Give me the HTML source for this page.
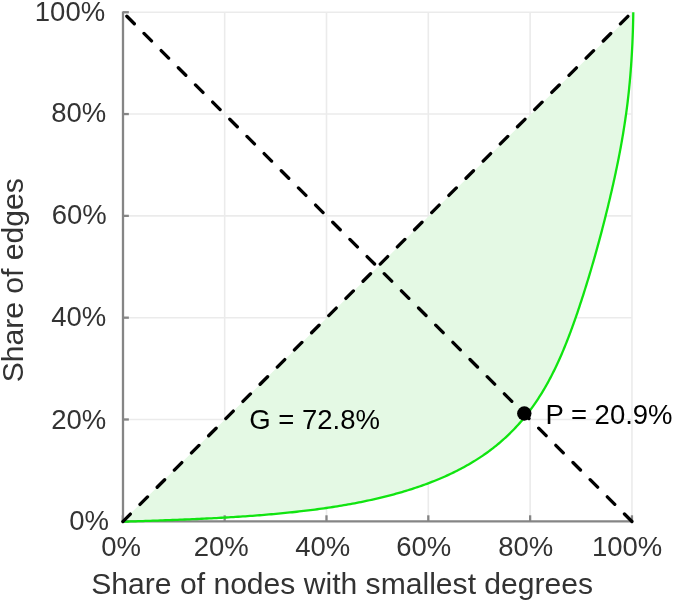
<!DOCTYPE html>
<html><head><meta charset="utf-8"><style>
html,body{margin:0;padding:0;background:#fff;width:688px;height:600px;overflow:hidden}
svg{display:block;will-change:transform}
text{font-family:"Liberation Sans",sans-serif;font-size:27.5px}
</style></head><body>
<svg width="688" height="600" viewBox="0 0 688 600">
<rect width="688" height="600" fill="#fff"/>
<g stroke="#ebebeb" stroke-width="1.6"><line x1="224.67" y1="521.3" x2="224.67" y2="12.25"/><line x1="122.85" y1="419.49" x2="631.95" y2="419.49"/><line x1="326.49" y1="521.3" x2="326.49" y2="12.25"/><line x1="122.85" y1="317.68" x2="631.95" y2="317.68"/><line x1="428.31" y1="521.3" x2="428.31" y2="12.25"/><line x1="122.85" y1="215.87" x2="631.95" y2="215.87"/><line x1="530.13" y1="521.3" x2="530.13" y2="12.25"/><line x1="122.85" y1="114.06" x2="631.95" y2="114.06"/><line x1="631.95" y1="521.3" x2="631.95" y2="12.25"/><line x1="122.85" y1="12.25" x2="631.95" y2="12.25"/></g><path d="M122.85,521.60 L125.71,521.60 L128.17,521.53 L130.64,521.44 L133.11,521.36 L135.58,521.28 L138.04,521.20 L140.51,521.12 L142.98,521.04 L145.44,520.95 L147.91,520.87 L150.37,520.79 L152.84,520.70 L155.30,520.62 L157.76,520.53 L160.23,520.44 L162.69,520.35 L165.15,520.26 L167.60,520.17 L170.06,520.08 L172.52,519.99 L174.97,519.90 L177.43,519.80 L179.88,519.70 L182.33,519.60 L184.78,519.50 L187.22,519.40 L189.67,519.30 L192.11,519.19 L194.55,519.09 L196.99,518.98 L199.43,518.87 L201.87,518.75 L204.30,518.64 L206.73,518.52 L209.16,518.40 L211.59,518.28 L214.01,518.15 L216.43,518.03 L218.85,517.90 L221.27,517.77 L223.68,517.63 L226.10,517.49 L228.50,517.35 L230.91,517.21 L233.31,517.06 L235.71,516.91 L238.11,516.76 L240.50,516.61 L242.89,516.45 L245.28,516.28 L247.66,516.12 L250.04,515.95 L252.42,515.78 L254.79,515.60 L257.16,515.42 L259.52,515.24 L261.89,515.05 L264.24,514.86 L266.60,514.66 L268.95,514.47 L271.29,514.26 L273.63,514.06 L275.97,513.84 L278.31,513.63 L280.63,513.41 L282.96,513.18 L285.28,512.95 L287.59,512.72 L289.90,512.48 L292.21,512.24 L294.51,511.99 L296.81,511.74 L299.10,511.48 L301.39,511.22 L303.67,510.95 L305.94,510.68 L308.22,510.40 L310.48,510.12 L312.74,509.83 L315.00,509.54 L317.25,509.24 L319.49,508.94 L321.73,508.63 L323.96,508.31 L326.19,507.99 L328.41,507.66 L330.63,507.33 L332.84,506.99 L335.04,506.64 L337.24,506.29 L339.43,505.94 L341.62,505.57 L343.80,505.20 L345.97,504.83 L348.14,504.44 L350.30,504.06 L352.45,503.66 L354.60,503.26 L356.74,502.85 L358.87,502.43 L361.00,502.01 L363.12,501.58 L365.23,501.15 L367.33,500.70 L369.43,500.25 L371.52,499.80 L373.61,499.33 L375.69,498.86 L377.75,498.38 L379.82,497.89 L381.87,497.40 L383.92,496.90 L385.96,496.39 L387.99,495.87 L390.01,495.35 L392.03,494.81 L394.04,494.27 L396.04,493.72 L398.03,493.17 L400.01,492.60 L401.99,492.03 L403.96,491.45 L405.92,490.86 L407.87,490.26 L409.81,489.65 L411.74,489.04 L413.67,488.41 L415.58,487.78 L417.49,487.14 L419.39,486.49 L421.28,485.83 L423.16,485.16 L425.03,484.49 L426.90,483.80 L428.75,483.11 L430.59,482.40 L432.43,481.69 L434.26,480.97 L436.07,480.23 L437.88,479.49 L439.68,478.74 L441.46,477.98 L443.24,477.21 L445.01,476.43 L446.77,475.64 L448.52,474.84 L450.26,474.03 L451.98,473.21 L453.70,472.37 L455.41,471.53 L457.11,470.68 L458.79,469.82 L460.47,468.95 L462.14,468.07 L463.79,467.17 L465.44,466.27 L467.07,465.35 L468.69,464.43 L470.31,463.49 L471.91,462.54 L473.50,461.58 L475.07,460.61 L476.64,459.63 L478.20,458.64 L479.74,457.63 L481.27,456.62 L482.80,455.59 L484.31,454.55 L485.80,453.50 L487.29,452.44 L488.76,451.36 L490.23,450.28 L491.68,449.18 L493.11,448.07 L494.54,446.95 L495.96,445.81 L497.36,444.66 L498.75,443.51 L500.13,442.34 L501.49,441.15 L502.85,439.96 L504.19,438.75 L505.52,437.54 L506.84,436.31 L508.15,435.07 L509.45,433.81 L510.73,432.55 L512.00,431.27 L513.27,429.99 L514.52,428.69 L515.75,427.38 L516.98,426.06 L518.20,424.72 L519.40,423.38 L520.59,422.02 L521.77,420.65 L522.94,419.27 L524.10,417.88 L525.25,416.48 L526.38,415.07 L527.51,413.64 L528.62,412.21 L529.72,410.76 L530.81,409.30 L531.89,407.83 L532.96,406.35 L534.02,404.86 L535.06,403.36 L536.10,401.84 L537.12,400.32 L538.13,398.78 L539.14,397.24 L540.13,395.68 L541.11,394.11 L542.08,392.53 L543.04,390.94 L543.99,389.34 L544.93,387.73 L545.86,386.12 L546.78,384.49 L547.69,382.85 L548.59,381.20 L549.48,379.54 L550.36,377.88 L551.24,376.20 L552.10,374.52 L552.96,372.83 L553.80,371.12 L554.64,369.42 L555.47,367.70 L556.30,365.97 L557.11,364.24 L557.92,362.50 L558.72,360.75 L559.51,358.99 L560.29,357.22 L561.07,355.45 L561.84,353.67 L562.60,351.89 L563.36,350.09 L564.11,348.29 L564.85,346.49 L565.58,344.68 L566.31,342.86 L567.04,341.03 L567.76,339.20 L568.47,337.36 L569.17,335.52 L569.88,333.67 L570.57,331.82 L571.26,329.96 L571.95,328.10 L572.63,326.23 L573.30,324.36 L573.97,322.48 L574.64,320.60 L575.30,318.71 L575.96,316.82 L576.61,314.92 L577.26,313.02 L577.91,311.12 L578.55,309.21 L579.19,307.30 L579.82,305.39 L580.45,303.47 L581.08,301.55 L581.71,299.63 L582.33,297.70 L582.95,295.78 L583.57,293.84 L584.18,291.91 L584.79,289.97 L585.40,288.03 L586.01,286.09 L586.61,284.15 L587.21,282.20 L587.81,280.25 L588.41,278.29 L589.00,276.34 L589.59,274.38 L590.18,272.42 L590.76,270.45 L591.34,268.48 L591.92,266.51 L592.50,264.54 L593.07,262.57 L593.64,260.59 L594.21,258.61 L594.77,256.62 L595.33,254.64 L595.89,252.65 L596.45,250.65 L597.00,248.66 L597.55,246.66 L598.10,244.66 L598.65,242.66 L599.19,240.65 L599.73,238.65 L600.27,236.64 L600.81,234.62 L601.34,232.61 L601.87,230.59 L602.40,228.57 L602.92,226.54 L603.44,224.51 L603.96,222.49 L604.48,220.45 L604.99,218.42 L605.50,216.38 L606.01,214.34 L606.52,212.30 L607.02,210.25 L607.52,208.21 L608.02,206.16 L608.52,204.10 L609.01,202.05 L609.50,199.99 L609.99,197.93 L610.47,195.86 L610.96,193.80 L611.44,191.73 L611.91,189.66 L612.39,187.58 L612.86,185.50 L613.32,183.42 L613.79,181.34 L614.25,179.25 L614.70,177.16 L615.16,175.06 L615.61,172.96 L616.05,170.86 L616.49,168.75 L616.93,166.64 L617.36,164.53 L617.79,162.41 L618.22,160.28 L618.64,158.16 L619.06,156.02 L619.47,153.89 L619.88,151.74 L620.28,149.60 L620.68,147.45 L621.07,145.29 L621.46,143.13 L621.84,140.96 L622.22,138.79 L622.59,136.62 L622.96,134.44 L623.32,132.25 L623.67,130.05 L624.02,127.86 L624.37,125.65 L624.71,123.44 L625.04,121.23 L625.36,119.00 L625.68,116.77 L626.00,114.54 L626.31,112.30 L626.61,110.05 L626.90,107.80 L627.19,105.54 L627.47,103.27 L627.75,101.00 L628.02,98.72 L628.28,96.43 L628.53,94.14 L628.78,91.83 L629.02,89.53 L629.25,87.21 L629.48,84.89 L629.70,82.56 L629.91,80.23 L630.12,77.88 L630.32,75.54 L630.52,73.18 L630.70,70.82 L630.88,68.45 L631.06,66.08 L631.23,63.70 L631.39,61.31 L631.54,58.92 L631.69,56.52 L631.83,54.11 L631.97,51.70 L632.10,49.28 L632.22,46.85 L632.34,44.42 L632.45,41.98 L632.55,39.54 L632.65,37.09 L632.74,34.63 L632.83,32.17 L632.91,29.70 L632.98,27.22 L633.05,24.74 L633.11,22.26 L633.17,19.76 L633.22,17.26 L633.26,14.76 L633.30,12.25 L122.85,521.30 Z" fill="#e4f9e4" stroke="none"/><g stroke="#858585" stroke-width="2.3"><line x1="122.85" y1="521.3" x2="122.85" y2="515.3"/><line x1="122.85" y1="521.30" x2="128.85" y2="521.30"/><line x1="224.67" y1="521.3" x2="224.67" y2="515.3"/><line x1="122.85" y1="419.49" x2="128.85" y2="419.49"/><line x1="326.49" y1="521.3" x2="326.49" y2="515.3"/><line x1="122.85" y1="317.68" x2="128.85" y2="317.68"/><line x1="428.31" y1="521.3" x2="428.31" y2="515.3"/><line x1="122.85" y1="215.87" x2="128.85" y2="215.87"/><line x1="530.13" y1="521.3" x2="530.13" y2="515.3"/><line x1="122.85" y1="114.06" x2="128.85" y2="114.06"/><line x1="631.95" y1="521.3" x2="631.95" y2="515.3"/><line x1="122.85" y1="12.25" x2="128.85" y2="12.25"/><line x1="123.0" y1="11.45" x2="123.0" y2="522.4"/><line x1="121.94999999999999" y1="521.4" x2="632.45" y2="521.4"/></g><path d="M122.85,521.60 L125.71,521.60 L128.17,521.53 L130.64,521.44 L133.11,521.36 L135.58,521.28 L138.04,521.20 L140.51,521.12 L142.98,521.04 L145.44,520.95 L147.91,520.87 L150.37,520.79 L152.84,520.70 L155.30,520.62 L157.76,520.53 L160.23,520.44 L162.69,520.35 L165.15,520.26 L167.60,520.17 L170.06,520.08 L172.52,519.99 L174.97,519.90 L177.43,519.80 L179.88,519.70 L182.33,519.60 L184.78,519.50 L187.22,519.40 L189.67,519.30 L192.11,519.19 L194.55,519.09 L196.99,518.98 L199.43,518.87 L201.87,518.75 L204.30,518.64 L206.73,518.52 L209.16,518.40 L211.59,518.28 L214.01,518.15 L216.43,518.03 L218.85,517.90 L221.27,517.77 L223.68,517.63 L226.10,517.49 L228.50,517.35 L230.91,517.21 L233.31,517.06 L235.71,516.91 L238.11,516.76 L240.50,516.61 L242.89,516.45 L245.28,516.28 L247.66,516.12 L250.04,515.95 L252.42,515.78 L254.79,515.60 L257.16,515.42 L259.52,515.24 L261.89,515.05 L264.24,514.86 L266.60,514.66 L268.95,514.47 L271.29,514.26 L273.63,514.06 L275.97,513.84 L278.31,513.63 L280.63,513.41 L282.96,513.18 L285.28,512.95 L287.59,512.72 L289.90,512.48 L292.21,512.24 L294.51,511.99 L296.81,511.74 L299.10,511.48 L301.39,511.22 L303.67,510.95 L305.94,510.68 L308.22,510.40 L310.48,510.12 L312.74,509.83 L315.00,509.54 L317.25,509.24 L319.49,508.94 L321.73,508.63 L323.96,508.31 L326.19,507.99 L328.41,507.66 L330.63,507.33 L332.84,506.99 L335.04,506.64 L337.24,506.29 L339.43,505.94 L341.62,505.57 L343.80,505.20 L345.97,504.83 L348.14,504.44 L350.30,504.06 L352.45,503.66 L354.60,503.26 L356.74,502.85 L358.87,502.43 L361.00,502.01 L363.12,501.58 L365.23,501.15 L367.33,500.70 L369.43,500.25 L371.52,499.80 L373.61,499.33 L375.69,498.86 L377.75,498.38 L379.82,497.89 L381.87,497.40 L383.92,496.90 L385.96,496.39 L387.99,495.87 L390.01,495.35 L392.03,494.81 L394.04,494.27 L396.04,493.72 L398.03,493.17 L400.01,492.60 L401.99,492.03 L403.96,491.45 L405.92,490.86 L407.87,490.26 L409.81,489.65 L411.74,489.04 L413.67,488.41 L415.58,487.78 L417.49,487.14 L419.39,486.49 L421.28,485.83 L423.16,485.16 L425.03,484.49 L426.90,483.80 L428.75,483.11 L430.59,482.40 L432.43,481.69 L434.26,480.97 L436.07,480.23 L437.88,479.49 L439.68,478.74 L441.46,477.98 L443.24,477.21 L445.01,476.43 L446.77,475.64 L448.52,474.84 L450.26,474.03 L451.98,473.21 L453.70,472.37 L455.41,471.53 L457.11,470.68 L458.79,469.82 L460.47,468.95 L462.14,468.07 L463.79,467.17 L465.44,466.27 L467.07,465.35 L468.69,464.43 L470.31,463.49 L471.91,462.54 L473.50,461.58 L475.07,460.61 L476.64,459.63 L478.20,458.64 L479.74,457.63 L481.27,456.62 L482.80,455.59 L484.31,454.55 L485.80,453.50 L487.29,452.44 L488.76,451.36 L490.23,450.28 L491.68,449.18 L493.11,448.07 L494.54,446.95 L495.96,445.81 L497.36,444.66 L498.75,443.51 L500.13,442.34 L501.49,441.15 L502.85,439.96 L504.19,438.75 L505.52,437.54 L506.84,436.31 L508.15,435.07 L509.45,433.81 L510.73,432.55 L512.00,431.27 L513.27,429.99 L514.52,428.69 L515.75,427.38 L516.98,426.06 L518.20,424.72 L519.40,423.38 L520.59,422.02 L521.77,420.65 L522.94,419.27 L524.10,417.88 L525.25,416.48 L526.38,415.07 L527.51,413.64 L528.62,412.21 L529.72,410.76 L530.81,409.30 L531.89,407.83 L532.96,406.35 L534.02,404.86 L535.06,403.36 L536.10,401.84 L537.12,400.32 L538.13,398.78 L539.14,397.24 L540.13,395.68 L541.11,394.11 L542.08,392.53 L543.04,390.94 L543.99,389.34 L544.93,387.73 L545.86,386.12 L546.78,384.49 L547.69,382.85 L548.59,381.20 L549.48,379.54 L550.36,377.88 L551.24,376.20 L552.10,374.52 L552.96,372.83 L553.80,371.12 L554.64,369.42 L555.47,367.70 L556.30,365.97 L557.11,364.24 L557.92,362.50 L558.72,360.75 L559.51,358.99 L560.29,357.22 L561.07,355.45 L561.84,353.67 L562.60,351.89 L563.36,350.09 L564.11,348.29 L564.85,346.49 L565.58,344.68 L566.31,342.86 L567.04,341.03 L567.76,339.20 L568.47,337.36 L569.17,335.52 L569.88,333.67 L570.57,331.82 L571.26,329.96 L571.95,328.10 L572.63,326.23 L573.30,324.36 L573.97,322.48 L574.64,320.60 L575.30,318.71 L575.96,316.82 L576.61,314.92 L577.26,313.02 L577.91,311.12 L578.55,309.21 L579.19,307.30 L579.82,305.39 L580.45,303.47 L581.08,301.55 L581.71,299.63 L582.33,297.70 L582.95,295.78 L583.57,293.84 L584.18,291.91 L584.79,289.97 L585.40,288.03 L586.01,286.09 L586.61,284.15 L587.21,282.20 L587.81,280.25 L588.41,278.29 L589.00,276.34 L589.59,274.38 L590.18,272.42 L590.76,270.45 L591.34,268.48 L591.92,266.51 L592.50,264.54 L593.07,262.57 L593.64,260.59 L594.21,258.61 L594.77,256.62 L595.33,254.64 L595.89,252.65 L596.45,250.65 L597.00,248.66 L597.55,246.66 L598.10,244.66 L598.65,242.66 L599.19,240.65 L599.73,238.65 L600.27,236.64 L600.81,234.62 L601.34,232.61 L601.87,230.59 L602.40,228.57 L602.92,226.54 L603.44,224.51 L603.96,222.49 L604.48,220.45 L604.99,218.42 L605.50,216.38 L606.01,214.34 L606.52,212.30 L607.02,210.25 L607.52,208.21 L608.02,206.16 L608.52,204.10 L609.01,202.05 L609.50,199.99 L609.99,197.93 L610.47,195.86 L610.96,193.80 L611.44,191.73 L611.91,189.66 L612.39,187.58 L612.86,185.50 L613.32,183.42 L613.79,181.34 L614.25,179.25 L614.70,177.16 L615.16,175.06 L615.61,172.96 L616.05,170.86 L616.49,168.75 L616.93,166.64 L617.36,164.53 L617.79,162.41 L618.22,160.28 L618.64,158.16 L619.06,156.02 L619.47,153.89 L619.88,151.74 L620.28,149.60 L620.68,147.45 L621.07,145.29 L621.46,143.13 L621.84,140.96 L622.22,138.79 L622.59,136.62 L622.96,134.44 L623.32,132.25 L623.67,130.05 L624.02,127.86 L624.37,125.65 L624.71,123.44 L625.04,121.23 L625.36,119.00 L625.68,116.77 L626.00,114.54 L626.31,112.30 L626.61,110.05 L626.90,107.80 L627.19,105.54 L627.47,103.27 L627.75,101.00 L628.02,98.72 L628.28,96.43 L628.53,94.14 L628.78,91.83 L629.02,89.53 L629.25,87.21 L629.48,84.89 L629.70,82.56 L629.91,80.23 L630.12,77.88 L630.32,75.54 L630.52,73.18 L630.70,70.82 L630.88,68.45 L631.06,66.08 L631.23,63.70 L631.39,61.31 L631.54,58.92 L631.69,56.52 L631.83,54.11 L631.97,51.70 L632.10,49.28 L632.22,46.85 L632.34,44.42 L632.45,41.98 L632.55,39.54 L632.65,37.09 L632.74,34.63 L632.83,32.17 L632.91,29.70 L632.98,27.22 L633.05,24.74 L633.11,22.26 L633.17,19.76 L633.22,17.26 L633.26,14.76 L633.30,12.25" fill="none" stroke="#10e410" stroke-width="2.3"/><line x1="122.85" y1="521.5999999999999" x2="631.95" y2="12.25" stroke="#000" stroke-width="3.3" stroke-dasharray="10.6 13.67" stroke-linecap="round"/><line x1="631.95" y1="521.5" x2="122.85" y2="12.25" stroke="#000" stroke-width="3.3" stroke-dasharray="10.6 13.67" stroke-linecap="round"/><circle cx="524.3" cy="413.5" r="7.2" fill="#000"/><g fill="#333"><text x="89.00" y="529.50" text-anchor="middle">0%</text><text x="121.00" y="555.70" text-anchor="middle">0%</text><text x="78.70" y="428.50" text-anchor="middle">20%</text><text x="221.20" y="555.50" text-anchor="middle">20%</text><text x="78.80" y="326.30" text-anchor="middle">40%</text><text x="322.70" y="555.50" text-anchor="middle">40%</text><text x="79.30" y="224.10" text-anchor="middle">60%</text><text x="423.70" y="555.50" text-anchor="middle">60%</text><text x="78.70" y="122.10" text-anchor="middle">80%</text><text x="525.70" y="555.50" text-anchor="middle">80%</text><text x="70.00" y="21.30" text-anchor="middle">100%</text><text x="627.10" y="555.50" text-anchor="middle">100%</text><text x="342.20" y="593.70" text-anchor="middle" style="font-size:30.1px">Share of nodes with smallest degrees</text><text transform="translate(23.20,280.30) rotate(-90)" text-anchor="middle" style="font-size:30.1px">Share of edges</text></g><g fill="#000"><text x="314.60" y="429.00" text-anchor="middle">G = 72.8%</text><text x="609.00" y="423.80" text-anchor="middle">P = 20.9%</text></g>
</svg>
</body></html>
